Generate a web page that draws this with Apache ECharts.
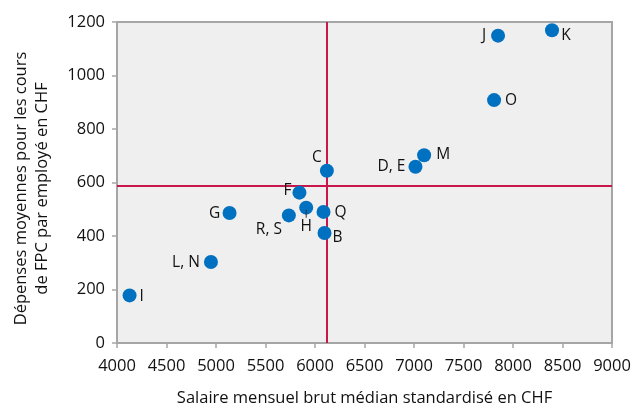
<!DOCTYPE html>
<html>
<head>
<meta charset="utf-8">
<script src="https://cdn.jsdelivr.net/npm/echarts@6/dist/echarts.min.js"></script>
<style>html,body{margin:0;padding:0;background:#fff}#c{width:633px;height:405px}</style>
</head>
<body>
<div id="c"></div>
<script>
// Data
var pointNames = ['C','F','H','R, S','Q','B','G','L, N','I','J','K','O','M','D, E'];
var salaries   = [6120, 5843, 5911, 5736, 6086, 6096, 5137, 4949, 4127, 7849, 8394, 7809, 7102, 7015];
var costs      = [644, 562, 506, 477, 490, 411, 486, 303, 178, 1149, 1169, 908, 702, 659];
var medianSalary = 6120;
var medianCost = 587;
var xTicks = [4000, 4500, 5000, 5500, 6000, 6500, 7000, 7500, 8000, 8500, 9000];
var yTicks = [0, 200, 400, 600, 800, 1000, 1200];
var xTitle = 'Salaire mensuel brut médian standardisé en CHF';
var yTitle = 'Dépenses moyennes pour les cours\nde FPC par employé en CHF';

// label placement (text centre relative to point centre)
var labelOffsets = {
  'C':[-10,-13], 'F':[-12,-2], 'H':[0,15], 'R, S':[-20,14], 'Q':[17,1], 'B':[13,5],
  'G':[-15,1], 'L, N':[-25,1], 'I':[12,1], 'J':[-14,0], 'K':[14,5], 'O':[17,0],
  'M':[19,-1], 'D, E':[-24,0]
};

var FONT = '"Open Sans", "Noto Sans", sans-serif';
var TXT = '#111';
var data = pointNames.map(function(n, i){
  var lab = {position:'inside', offset: labelOffsets[n], color:TXT, fontSize:15.5, fontFamily:FONT};
  if (n === 'H') {
    lab.formatter = '{bar| }\n{t|H}';
    lab.rich = {bar:{width:1, height:8, backgroundColor:'#333', align:'center'}, t:{fontSize:15.5, fontFamily:FONT, color:TXT, lineHeight:18, align:'center'}};
  }
  return {name:n, value:[salaries[i], costs[i]], label: lab};
});

var chart = echarts.init(document.getElementById('c'), null, {renderer:'canvas'});
chart.setOption({
  animation:false,
  textStyle:{fontFamily:FONT},
  grid:{left:117, right:21, top:22, bottom:62, containLabel:false, outerBoundsMode:'none', show:true, backgroundColor:'#EFEFEF', borderColor:'#A6A6A6', borderWidth:2},
  xAxis:{
    type:'value', min:xTicks[0], max:xTicks[xTicks.length-1], interval:500,
    name:xTitle, nameLocation:'middle', nameGap:47,
    nameTextStyle:{fontSize:16.5, color:TXT, fontFamily:FONT},
    axisLine:{show:true, onZero:false, lineStyle:{color:'#A6A6A6', width:2}},
    axisTick:{show:true, length:5, lineStyle:{color:'#A6A6A6', width:1.5}},
    axisLabel:{fontSize:16.5, color:TXT, margin:15, fontFamily:FONT, formatter:function(v){return String(v);}},
    splitLine:{show:false}
  },
  yAxis:{
    type:'value', min:yTicks[0], max:yTicks[yTicks.length-1], interval:200,
    name:yTitle, nameLocation:'middle', nameGap:64, nameRotate:90,
    nameTextStyle:{fontSize:16.5, color:TXT, lineHeight:21, fontFamily:FONT, align:'center', padding:[0,12,0,0]},
    axisLine:{show:true, onZero:false, lineStyle:{color:'#A6A6A6', width:2}},
    axisTick:{show:true, length:5, lineStyle:{color:'#A6A6A6', width:1.5}},
    axisLabel:{fontSize:16.5, color:TXT, margin:12, fontFamily:FONT, formatter:function(v){return String(v);}},
    splitLine:{show:false}
  },
  series:[{
    type:'scatter',
    symbolSize:14,
    itemStyle:{color:'#0070C0', opacity:1},
    label:{show:true, formatter:'{b}'},
    data:data,
    z:3,
    markLine:{
      silent:true, symbol:['none','none'], label:{show:false},
      lineStyle:{color:'#C8174B', width:2, type:'solid', opacity:1},
      data:[{xAxis:medianSalary},{yAxis:medianCost}],
      z:2
    }
  }]
});
</script>
</body>
</html>
